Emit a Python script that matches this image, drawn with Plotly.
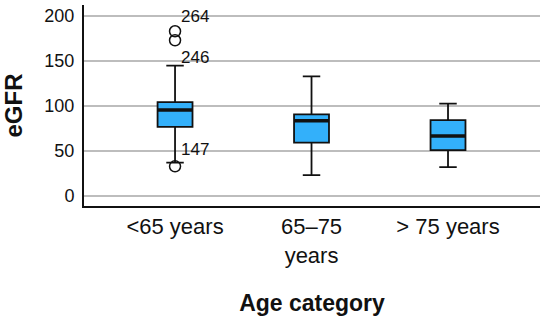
import plotly.graph_objects as go

categories = ["<65 years", "65–75<br>years", "> 75 years"]
q1 = [76.7, 59.3, 51.0]
median = [95.5, 83.7, 66.7]
q3 = [104.4, 90.7, 84.4]
lower_whisker = [37.0, 23.3, 32.0]
upper_whisker = [144.8, 133.0, 102.6]

outlier_cat = [0, 0, 0]
outlier_val = [183.0, 173.0, 33.0]
outlier_labels = ["264", "246", "147"]
label_yshift = [15, -17, 17]

y_ticks = [0, 50, 100, 150, 200]
box_w = 0.256

fig = go.Figure()
for i, cat in enumerate(categories):
    fig.add_trace(go.Box(
        x=[i], q1=[q1[i]], median=[median[i]], q3=[q3[i]],
        lowerfence=[lower_whisker[i]], upperfence=[upper_whisker[i]],
        width=box_w, whiskerwidth=0.5,
        fillcolor="#33b0fa", line=dict(color="#111111", width=1.8),
        boxpoints=False, showlegend=False, hoverinfo="skip",
    ))
    fig.add_trace(go.Scatter(
        x=[i - box_w / 2, i + box_w / 2], y=[median[i], median[i]], mode="lines",
        line=dict(color="#111111", width=3.5), showlegend=False, hoverinfo="skip",
    ))

fig.add_trace(go.Scatter(
    x=outlier_cat, y=outlier_val, mode="markers",
    marker=dict(symbol="circle-open", size=11, color="#111111", line=dict(width=1.5, color="#111111")),
    showlegend=False, hoverinfo="skip",
))

for cx, yv, txt, ys in zip(outlier_cat, outlier_val, outlier_labels, label_yshift):
    fig.add_annotation(x=cx, y=yv, text=txt, showarrow=False, xanchor="left",
                       xshift=4, yshift=ys, font=dict(family="Liberation Sans, Arial", size=17, color="#111111"))

fig.update_layout(
    width=550, height=321,
    margin=dict(l=84, r=10, t=5, b=115),
    plot_bgcolor="white", paper_bgcolor="white",
    font=dict(family="Liberation Sans, Arial", color="#111111"),
)
fig.update_xaxes(
    range=[-0.667, 2.674], tickmode="array", tickvals=list(range(len(categories))), ticktext=categories,
    tickfont=dict(size=22), showgrid=False, zeroline=False, automargin=False,
    showline=True, linecolor="#111111", linewidth=2, ticks="",
    title=dict(text="<b>Age category</b>", font=dict(size=23), standoff=28),
)
fig.update_yaxes(
    range=[-11.1, 212.2], tickvals=y_ticks, tickfont=dict(size=18), automargin=False,
    showgrid=True, gridcolor="#bdbdbd", gridwidth=1.5, zeroline=False,
    showline=True, linecolor="#111111", linewidth=2, ticks="", ticklabelstandoff=4,
    title=dict(text="<b>eGFR</b>", font=dict(size=24), standoff=18),
)

fig.write_html("out.html", config={"displayModeBar": False},
               post_script="document.body.style.margin='0px';")
